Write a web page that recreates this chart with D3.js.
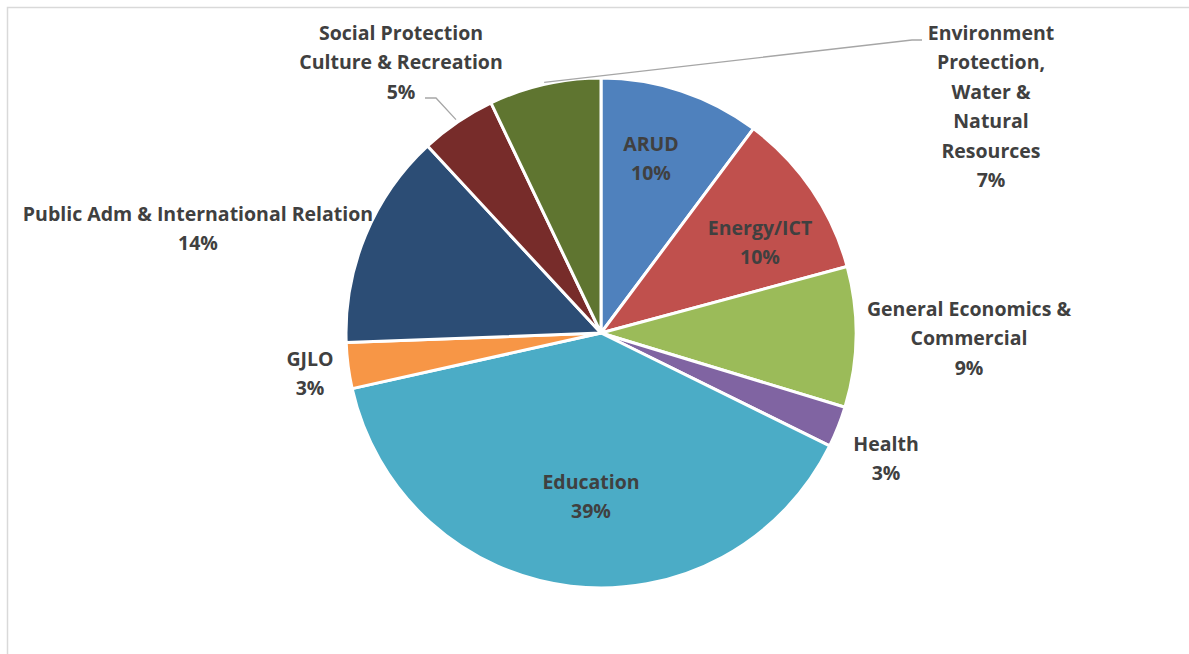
<!DOCTYPE html>
<html>
<head>
<meta charset="utf-8">
<script src="https://cdn.jsdelivr.net/npm/d3@7"></script>
<style>
  html, body { margin: 0; padding: 0; background: #ffffff; }
  svg { display: block; }
  text { font-family: "Open Sans", "Noto Sans", "DejaVu Sans", sans-serif; font-weight: bold; fill: #404040; }
</style>
</head>
<body>
<svg id="chart" width="1189" height="654"></svg>
<script>
// Data (clockwise from 12 o'clock)
const categories = [
  "ARUD",
  "Energy/ICT",
  "General Economics & Commercial",
  "Health",
  "Education",
  "GJLO",
  "Public Adm & International Relation",
  "Social Protection Culture & Recreation",
  "Environment Protection, Water & Natural Resources"
];
const values = [10.2, 10.6, 8.9, 2.6, 39.2, 2.9, 13.7, 4.8, 7.1];
const percentLabels = ["10%", "10%", "9%", "3%", "39%", "3%", "14%", "5%", "7%"];
const labelLines = [
  ["ARUD"],
  ["Energy/ICT"],
  ["General Economics &", "Commercial"],
  ["Health"],
  ["Education"],
  ["GJLO"],
  ["Public Adm & International Relation"],
  ["Social Protection", "Culture & Recreation"],
  ["Environment", "Protection,", "Water &", "Natural", "Resources"]
];
const colors = ["#4F81BD", "#C0504D", "#9BBB59", "#8064A2", "#4BACC6", "#F79646", "#2C4D75", "#772C2A", "#5F7530"];

// Layout
const cx = 601, cy = 333, R = 255;
const labelPos = [
  [651, 144], [760, 228], [969, 309], [886, 444], [591, 482],
  [310, 359], [198, 214], [401, 33], [991, 33]
];
const lineH = 29.5;

const svg = d3.select("#chart");

// frame
svg.append("path")
  .attr("d", "M7.5,660 L7.5,7.5 L1200,7.5")
  .attr("fill", "none")
  .attr("stroke", "#d9d9d9")
  .attr("stroke-width", 1.5);

const pie = d3.pie().sort(null).value(d => d)(values);
const arc = d3.arc().innerRadius(0).outerRadius(R);

const g = svg.append("g").attr("transform", `translate(${cx},${cy})`);
g.selectAll("path.slice")
  .data(pie)
  .join("path")
  .attr("class", "slice")
  .attr("d", arc)
  .attr("fill", (d, i) => colors[i])
  .attr("stroke", "#ffffff")
  .attr("stroke-width", 3)
  .attr("stroke-linejoin", "round");

// leader lines (from label to slice edge, slice mid-angle)
function edgePoint(i, r) {
  const p = pie[i];
  const a = (p.startAngle + p.endAngle) / 2;
  return [cx + Math.sin(a) * r, cy - Math.cos(a) * r];
}
const leaders = [
  { i: 7, pts: [[425, 98], [436, 98]], r: R + 3 },
  { i: 8, pts: [[922, 40], [912, 40]], r: R + 2 }
];
const line = d3.line();
leaders.forEach(l => {
  const e = edgePoint(l.i, l.r);
  svg.append("path")
    .attr("d", line([l.pts[0], l.pts[1], e]))
    .attr("fill", "none")
    .attr("stroke", "#a6a6a6")
    .attr("stroke-width", 1.3);
});

// labels
categories.forEach((c, i) => {
  const lines = labelLines[i].concat([percentLabels[i]]);
  const t = svg.append("text")
    .attr("text-anchor", "middle")
    .attr("font-size", 19.5);
  lines.forEach((s, k) => {
    t.append("tspan")
      .attr("x", labelPos[i][0])
      .attr("y", labelPos[i][1] + k * lineH)
      .attr("dy", "0.35em")
      .text(s);
  });
});
</script>
</body>
</html>
